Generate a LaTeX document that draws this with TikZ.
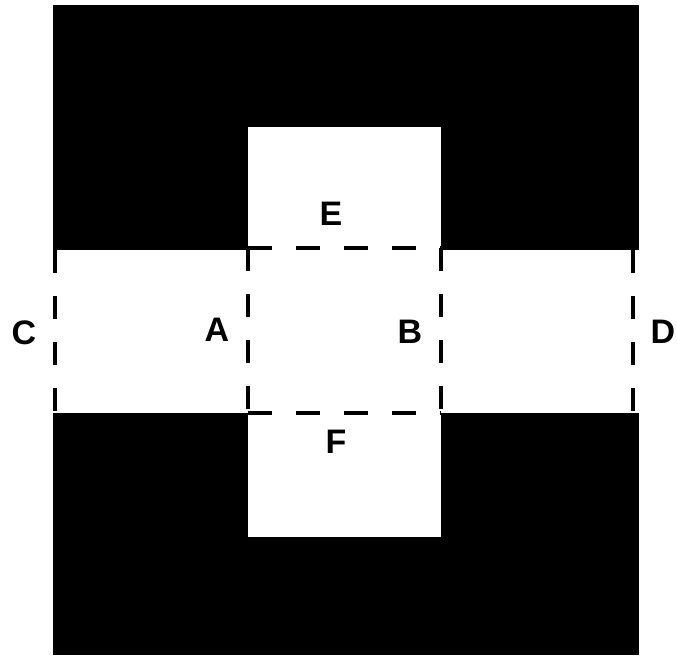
\documentclass[tikz,border=0pt]{standalone}
\usepackage{fontspec}
\setmainfont{Liberation Sans}
\begin{document}
\begin{tikzpicture}[x=1pt,y=-1pt,
  lbl/.style={font=\fontsize{34}{34}\selectfont\bfseries, inner sep=0pt},
  dashv/.style={line width=3.2pt, dash pattern=on 23pt off 23pt},
  dashh/.style={line width=3.2pt, dash pattern=on 24pt off 24pt}]
\useasboundingbox (0,0) rectangle (677,659);
\fill[white] (0,0) rectangle (677,659);
% black regions
\fill[black] (53,5) rectangle (639,250);
\fill[black] (53,413) rectangle (639,655);
% central white opening
\fill[white] (248,127) rectangle (441,537);
% coordinates
\coordinate (c1) at (55,250); \coordinate (c2) at (55,413);
\coordinate (a1) at (248,248); \coordinate (a2) at (248,413);
\coordinate (b1) at (441,248); \coordinate (b2) at (441,413);
\coordinate (d1) at (633,250); \coordinate (d2) at (633,413);
% dashed lines
\draw[dashv] (c1) -- (c2);
\draw[dashv] (a1) -- (a2);
\draw[dashv] (b1) -- (b2);
\draw[dashv] (d1) -- (d2);
\draw[dashh] (a1) -- (b1);
\draw[dashh] (a2) -- (b2);
% labels
\node[lbl] (C) at (24,333) {C};
\node[lbl] (A) at (217,330) {A};
\node[lbl] (B) at (410,332) {B};
\node[lbl] (D) at (663,332) {D};
\node[lbl] (E) at (331,214) {E};
\node[lbl] (F) at (336,442) {F};
\end{tikzpicture}
\end{document}
